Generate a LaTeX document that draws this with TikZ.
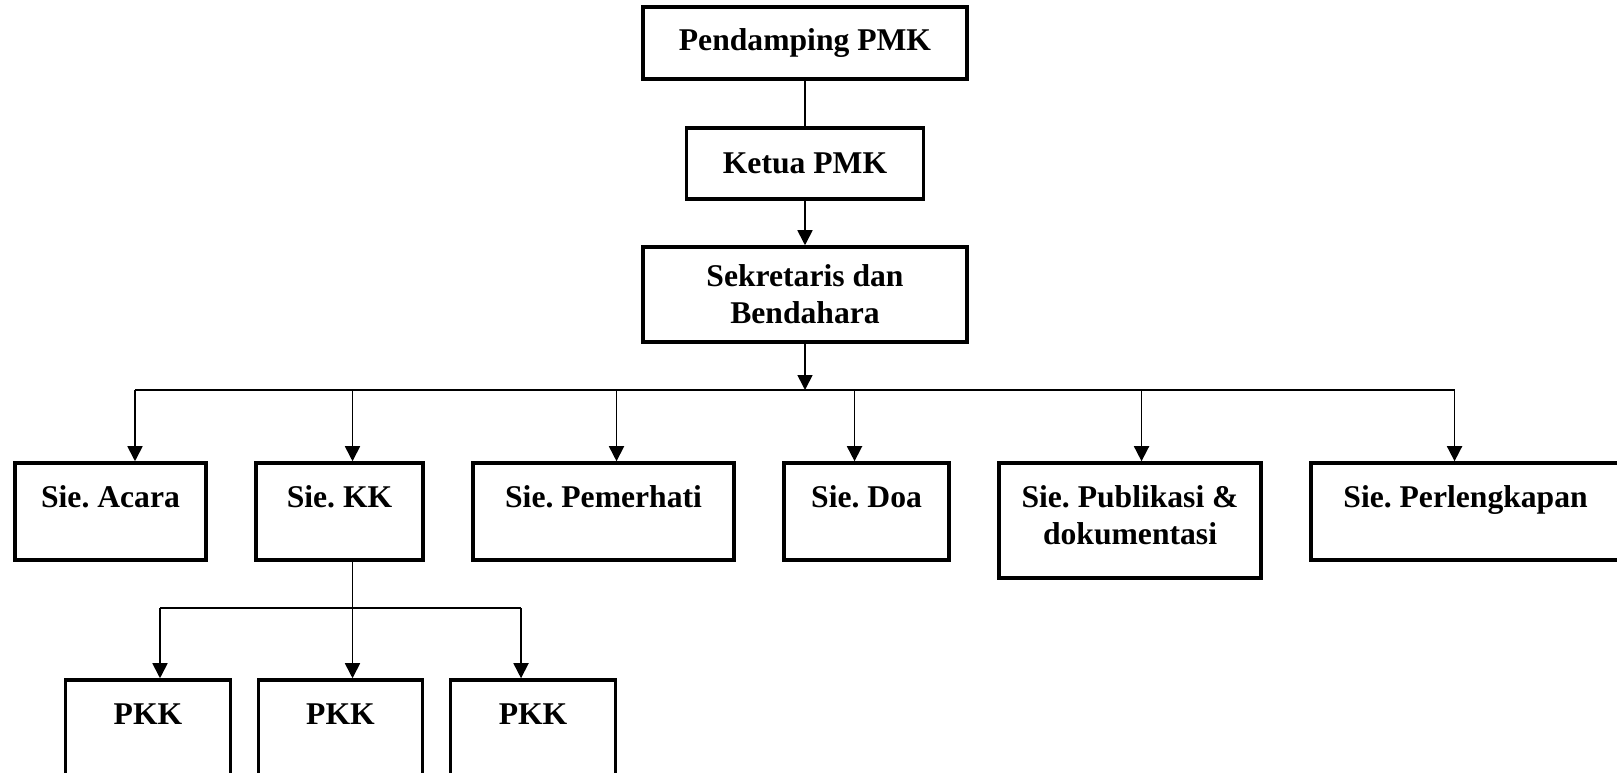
\documentclass[tikz,border=0pt]{standalone}
\usepackage{fontspec}
\setmainfont{Liberation Serif}
\frenchspacing
\usetikzlibrary{positioning}
\usetikzlibrary{arrows.meta}

\begin{document}
\begin{tikzpicture}[
                            x=0.1mm, y=-0.1mm,
                            node distance=4.65mm,
                            font=\fontsize{9}{10.5}\selectfont\bfseries,
                            box/.style={draw, line width=1pt, align=center, inner sep=0pt},
                            sie/.style={box, minimum height=9.7mm, text height=6.5pt, text depth=9pt},
                            line/.style={line width=0.48pt},
                            arr/.style={line, -{Triangle[length=1.5mm, width=1.5mm]}}
                            ]
                            \useasboundingbox (0,0) rectangle (1617,773);

                            \node[box, minimum width=32.4mm, minimum height=7.2mm]  (pend)  at (805,43)     {Pendamping PMK};
                            \node[box, minimum width=23.7mm, minimum height=7.1mm]  (ketua) at (805,163.5)  {Ketua PMK};
                            \node[box, minimum width=32.4mm, minimum height=9.5mm]  (sek)   at (805,294.5)  {Sekretaris dan\\Bendahara};
                            \coordinate (bus) at (805,390);

                            \node[sie, minimum width=19.1mm]                        (acara) at (110.5,511.5) {Sie. Acara};
                            \node[sie, minimum width=16.7mm, right=of acara]        (kk)    {Sie. KK};
                            \node[sie, minimum width=26.1mm, right=of kk]           (pem)   {Sie. Pemerhati};
                            \node[sie, minimum width=16.5mm, right=of pem]          (doa)   {Sie. Doa};
                            \node[box, minimum width=26.2mm, minimum height=11.5mm,
                                  right=of doa.north east, anchor=north west]      (pub)
                                 {\raisebox{1.5pt}[\height][\depth]{Sie. Publikasi \&}\\
                                  \raisebox{1.5pt}[\height][\depth]{dokumentasi}};
                            \node[sie, minimum width=30.9mm,
                                  right=of pub.north east, anchor=north west]      (perl)  {Sie. Perlengkapan};

                            \node[sie, minimum width=16.5mm]                        (pkk1)  at (148,728.5) {PKK};
                            \node[sie, minimum width=16.4mm, right=2.45mm of pkk1]  (pkk2)  {PKK};
                            \node[sie, minimum width=16.5mm, right=2.45mm of pkk2]  (pkk3)  {PKK};

                            \coordinate (t1) at ([xshift=2.45mm]acara.north);
                            \coordinate (t2) at ([xshift=1.3mm]kk.north);
                            \coordinate (t3) at ([xshift=1.3mm]pem.north);
                            \coordinate (t4) at ([xshift=-1.2mm]doa.north);
                            \coordinate (t5) at ([xshift=1.15mm]pub.north);
                            \coordinate (t6) at ([xshift=-1.1mm]perl.north);

                            \coordinate (kb)  at ([xshift=1.3mm]kk.south);
                            \coordinate (sub) at (352,608);
                            \coordinate (p1)  at ([xshift=1.2mm]pkk1.north);
                            \coordinate (p3)  at ([xshift=-1.2mm]pkk3.north);

                            \draw[line] (pend)  -- (ketua);
                            \draw[arr]  (ketua) -- (sek);
                            \draw[arr]  (sek)   -- (bus);

                            \draw[line] (t1 |- bus) -- (t6 |- bus);
                            \draw[arr]  (t1 |- bus) -- (t1);
                            \draw[arr]  (t2 |- bus) -- (t2);
                            \draw[arr]  (t3 |- bus) -- (t3);
                            \draw[arr]  (t4 |- bus) -- (t4);
                            \draw[arr]  (t5 |- bus) -- (t5);
                            \draw[arr]  (t6 |- bus) -- (t6);

                            \draw[arr]  (kb) -- (kb |- pkk2.north);
                            \draw[line] (p1 |- sub) -- (p3 |- sub);
                            \draw[arr]  (p1 |- sub) -- (p1);
                            \draw[arr]  (p3 |- sub) -- (p3);
                        \end{tikzpicture}
\end{document}
